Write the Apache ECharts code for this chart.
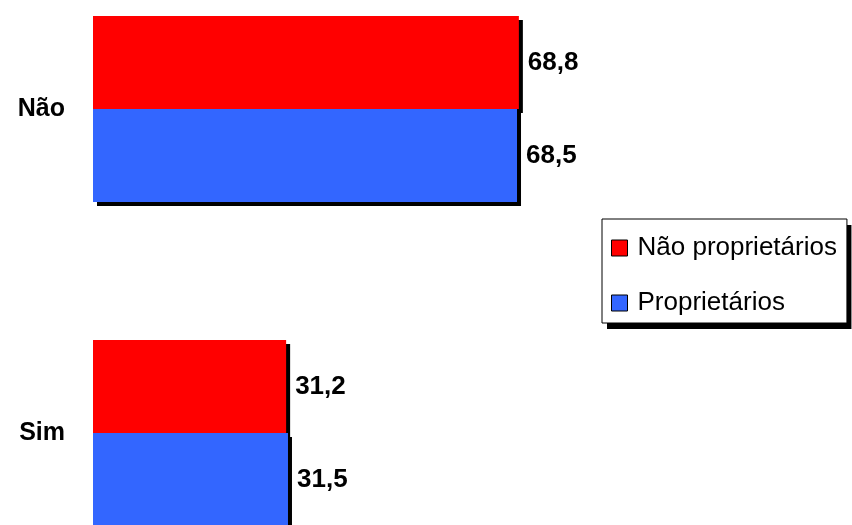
<!DOCTYPE html>
<html>
<head>
<meta charset="utf-8">
<script src="https://cdn.jsdelivr.net/npm/echarts@6/dist/echarts.min.js"></script>
<style>
  html, body { margin: 0; padding: 0; background: #fff; }
  #chart { width: 852px; height: 525px; }
</style>
</head>
<body>
<div id="chart"></div>
<script>
// categories and series values
const categories = ['Não', 'Sim'];
const seriesNames = ['Não proprietários', 'Proprietários'];
const naoProprietarios = [68.8, 31.2];
const proprietarios = [68.5, 31.5];

const chart = echarts.init(document.getElementById('chart'));

// bars: flat colour with a hard black drop shadow
const barStyle = (color) => ({
  color: color,
  borderWidth: 0,
  shadowColor: '#000',
  shadowBlur: 0,
  shadowOffsetX: 4,
  shadowOffsetY: 4
});

const labelStyle = {
  show: true,
  position: 'right',
  distance: 9,
  fontFamily: 'Liberation Sans',
  fontWeight: 'bold',
  fontSize: 26,
  color: '#000',
  formatter: (p) => String(p.value).replace('.', ',')
};

// shared legend box settings
const legendBase = {
  orient: 'vertical',
  padding: [16, 10, 7, 9],
  itemGap: 29,
  itemWidth: 16,
  itemHeight: 16,
  icon: 'rect',
  data: seriesNames
};

const option = {
  animation: false,
  backgroundColor: '#fff',
  grid: {
    left: 93,
    width: 619,
    top: -53,
    height: 648,
    outerBoundsMode: 'none'
  },
  xAxis: {
    type: 'value',
    min: 0,
    max: 100,
    show: false
  },
  yAxis: {
    type: 'category',
    data: categories,
    inverse: true,
    axisLine: { show: false },
    axisTick: { show: false },
    axisLabel: {
      margin: 28,
      fontFamily: 'Liberation Sans',
      fontWeight: 'bold',
      fontSize: 25,
      color: '#000'
    }
  },
  legend: [
    // black block behind the box, acts as its shadow
    Object.assign({}, legendBase, {
      left: 607,
      top: 225,
      backgroundColor: '#000',
      borderWidth: 0,
      selectedMode: false,
      itemStyle: { opacity: 0 },
      textStyle: {
        fontFamily: 'Liberation Sans',
        fontSize: 26,
        lineHeight: 26,
        color: 'rgba(0,0,0,0)',
        padding: [0, 0, 0, 5]
      }
    }),
    Object.assign({}, legendBase, {
      left: 602,
      top: 219,
      backgroundColor: '#fff',
      borderColor: '#000',
      borderWidth: 1,
      itemStyle: {
        borderColor: '#000',
        borderWidth: 1,
        shadowBlur: 0,
        shadowOffsetX: 0,
        shadowOffsetY: 0
      },
      textStyle: {
        fontFamily: 'Liberation Sans',
        fontSize: 26,
        lineHeight: 26,
        color: '#000',
        padding: [0, 0, 0, 5]
      }
    })
  ],
  series: [
    {
      name: seriesNames[0],
      type: 'bar',
      data: naoProprietarios,
      barWidth: 93,
      barGap: '0%',
      itemStyle: barStyle('#ff0000'),
      label: labelStyle
    },
    {
      name: seriesNames[1],
      type: 'bar',
      data: proprietarios,
      barWidth: 93,
      barGap: '0%',
      itemStyle: barStyle('#3366ff'),
      label: labelStyle
    }
  ]
};

chart.setOption(option);
</script>
</body>
</html>
